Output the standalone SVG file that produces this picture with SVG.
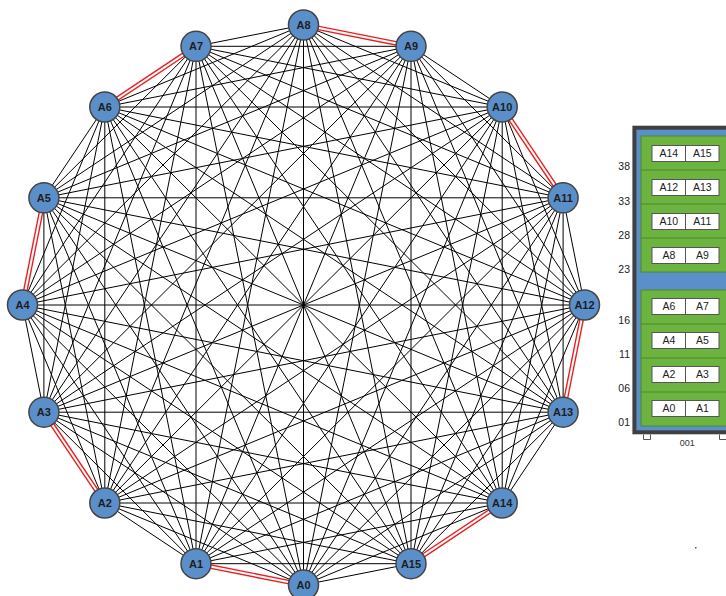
<svg xmlns="http://www.w3.org/2000/svg" width="726" height="596" viewBox="0 0 726 596">
<style>
.e{stroke:#000;stroke-width:1}
.r{stroke:#e8201f;stroke-width:4.8}
.rw{stroke:#fff;stroke-width:2}
.n circle{fill:#5b8fc9;stroke:#444;stroke-width:1.5}
.n text{font-family:"Liberation Sans",Arial,sans-serif;font-weight:bold;font-size:11px;fill:#1e1e1e;text-anchor:middle}
.lbl{font-family:"Liberation Sans",Arial,sans-serif;font-size:10.5px;fill:#222;text-anchor:end}
.cell rect{fill:#fff;stroke:#555;stroke-width:1}
.cell text{font-family:"Liberation Sans",Arial,sans-serif;font-size:10.5px;fill:#222;text-anchor:middle}
.grn{fill:#6cb33f;stroke:#4d8a2a;stroke-width:1}
.div{stroke:#4d8a2a;stroke-width:1}
</style>
<rect width="726" height="596" fill="#fff"/>
<g id="connectors">
<g id="black-edges">
<line class="e" x1="303.5" y1="585" x2="104.8" y2="503"/><line class="e" x1="303.5" y1="585" x2="43.9" y2="412.2"/><line class="e" x1="303.5" y1="585" x2="22.5" y2="305"/><line class="e" x1="303.5" y1="585" x2="43.9" y2="197.8"/><line class="e" x1="303.5" y1="585" x2="104.8" y2="107"/><line class="e" x1="303.5" y1="585" x2="196" y2="46.3"/><line class="e" x1="303.5" y1="585" x2="303.5" y2="25"/><line class="e" x1="303.5" y1="585" x2="411" y2="46.3"/><line class="e" x1="303.5" y1="585" x2="502.2" y2="107"/><line class="e" x1="303.5" y1="585" x2="563.1" y2="197.8"/><line class="e" x1="303.5" y1="585" x2="584.5" y2="305"/><line class="e" x1="303.5" y1="585" x2="563.1" y2="412.2"/><line class="e" x1="303.5" y1="585" x2="502.2" y2="503"/><line class="e" x1="303.5" y1="585" x2="411" y2="563.7"/>
<line class="e" x1="196" y1="563.7" x2="104.8" y2="503"/><line class="e" x1="196" y1="563.7" x2="43.9" y2="412.2"/><line class="e" x1="196" y1="563.7" x2="22.5" y2="305"/><line class="e" x1="196" y1="563.7" x2="43.9" y2="197.8"/><line class="e" x1="196" y1="563.7" x2="104.8" y2="107"/><line class="e" x1="196" y1="563.7" x2="196" y2="46.3"/><line class="e" x1="196" y1="563.7" x2="303.5" y2="25"/><line class="e" x1="196" y1="563.7" x2="411" y2="46.3"/><line class="e" x1="196" y1="563.7" x2="502.2" y2="107"/><line class="e" x1="196" y1="563.7" x2="563.1" y2="197.8"/><line class="e" x1="196" y1="563.7" x2="584.5" y2="305"/><line class="e" x1="196" y1="563.7" x2="563.1" y2="412.2"/><line class="e" x1="196" y1="563.7" x2="502.2" y2="503"/><line class="e" x1="196" y1="563.7" x2="411" y2="563.7"/>
<line class="e" x1="104.8" y1="503" x2="22.5" y2="305"/><line class="e" x1="104.8" y1="503" x2="43.9" y2="197.8"/><line class="e" x1="104.8" y1="503" x2="104.8" y2="107"/><line class="e" x1="104.8" y1="503" x2="196" y2="46.3"/><line class="e" x1="104.8" y1="503" x2="303.5" y2="25"/><line class="e" x1="104.8" y1="503" x2="411" y2="46.3"/><line class="e" x1="104.8" y1="503" x2="502.2" y2="107"/><line class="e" x1="104.8" y1="503" x2="563.1" y2="197.8"/><line class="e" x1="104.8" y1="503" x2="584.5" y2="305"/><line class="e" x1="104.8" y1="503" x2="563.1" y2="412.2"/><line class="e" x1="104.8" y1="503" x2="502.2" y2="503"/><line class="e" x1="104.8" y1="503" x2="411" y2="563.7"/>
<line class="e" x1="43.9" y1="412.2" x2="22.5" y2="305"/><line class="e" x1="43.9" y1="412.2" x2="43.9" y2="197.8"/><line class="e" x1="43.9" y1="412.2" x2="104.8" y2="107"/><line class="e" x1="43.9" y1="412.2" x2="196" y2="46.3"/><line class="e" x1="43.9" y1="412.2" x2="303.5" y2="25"/><line class="e" x1="43.9" y1="412.2" x2="411" y2="46.3"/><line class="e" x1="43.9" y1="412.2" x2="502.2" y2="107"/><line class="e" x1="43.9" y1="412.2" x2="563.1" y2="197.8"/><line class="e" x1="43.9" y1="412.2" x2="584.5" y2="305"/><line class="e" x1="43.9" y1="412.2" x2="563.1" y2="412.2"/><line class="e" x1="43.9" y1="412.2" x2="502.2" y2="503"/><line class="e" x1="43.9" y1="412.2" x2="411" y2="563.7"/>
<line class="e" x1="22.5" y1="305" x2="104.8" y2="107"/><line class="e" x1="22.5" y1="305" x2="196" y2="46.3"/><line class="e" x1="22.5" y1="305" x2="303.5" y2="25"/><line class="e" x1="22.5" y1="305" x2="411" y2="46.3"/><line class="e" x1="22.5" y1="305" x2="502.2" y2="107"/><line class="e" x1="22.5" y1="305" x2="563.1" y2="197.8"/><line class="e" x1="22.5" y1="305" x2="584.5" y2="305"/><line class="e" x1="22.5" y1="305" x2="563.1" y2="412.2"/><line class="e" x1="22.5" y1="305" x2="502.2" y2="503"/><line class="e" x1="22.5" y1="305" x2="411" y2="563.7"/>
<line class="e" x1="43.9" y1="197.8" x2="104.8" y2="107"/><line class="e" x1="43.9" y1="197.8" x2="196" y2="46.3"/><line class="e" x1="43.9" y1="197.8" x2="303.5" y2="25"/><line class="e" x1="43.9" y1="197.8" x2="411" y2="46.3"/><line class="e" x1="43.9" y1="197.8" x2="502.2" y2="107"/><line class="e" x1="43.9" y1="197.8" x2="563.1" y2="197.8"/><line class="e" x1="43.9" y1="197.8" x2="584.5" y2="305"/><line class="e" x1="43.9" y1="197.8" x2="563.1" y2="412.2"/><line class="e" x1="43.9" y1="197.8" x2="502.2" y2="503"/><line class="e" x1="43.9" y1="197.8" x2="411" y2="563.7"/>
<line class="e" x1="104.8" y1="107" x2="303.5" y2="25"/><line class="e" x1="104.8" y1="107" x2="411" y2="46.3"/><line class="e" x1="104.8" y1="107" x2="502.2" y2="107"/><line class="e" x1="104.8" y1="107" x2="563.1" y2="197.8"/><line class="e" x1="104.8" y1="107" x2="584.5" y2="305"/><line class="e" x1="104.8" y1="107" x2="563.1" y2="412.2"/><line class="e" x1="104.8" y1="107" x2="502.2" y2="503"/><line class="e" x1="104.8" y1="107" x2="411" y2="563.7"/>
<line class="e" x1="196" y1="46.3" x2="303.5" y2="25"/><line class="e" x1="196" y1="46.3" x2="411" y2="46.3"/><line class="e" x1="196" y1="46.3" x2="502.2" y2="107"/><line class="e" x1="196" y1="46.3" x2="563.1" y2="197.8"/><line class="e" x1="196" y1="46.3" x2="584.5" y2="305"/><line class="e" x1="196" y1="46.3" x2="563.1" y2="412.2"/><line class="e" x1="196" y1="46.3" x2="502.2" y2="503"/><line class="e" x1="196" y1="46.3" x2="411" y2="563.7"/>
<line class="e" x1="303.5" y1="25" x2="502.2" y2="107"/><line class="e" x1="303.5" y1="25" x2="563.1" y2="197.8"/><line class="e" x1="303.5" y1="25" x2="584.5" y2="305"/><line class="e" x1="303.5" y1="25" x2="563.1" y2="412.2"/><line class="e" x1="303.5" y1="25" x2="502.2" y2="503"/><line class="e" x1="303.5" y1="25" x2="411" y2="563.7"/>
<line class="e" x1="411" y1="46.3" x2="502.2" y2="107"/><line class="e" x1="411" y1="46.3" x2="563.1" y2="197.8"/><line class="e" x1="411" y1="46.3" x2="584.5" y2="305"/><line class="e" x1="411" y1="46.3" x2="563.1" y2="412.2"/><line class="e" x1="411" y1="46.3" x2="502.2" y2="503"/><line class="e" x1="411" y1="46.3" x2="411" y2="563.7"/>
<line class="e" x1="502.2" y1="107" x2="584.5" y2="305"/><line class="e" x1="502.2" y1="107" x2="563.1" y2="412.2"/><line class="e" x1="502.2" y1="107" x2="502.2" y2="503"/><line class="e" x1="502.2" y1="107" x2="411" y2="563.7"/>
<line class="e" x1="563.1" y1="197.8" x2="584.5" y2="305"/><line class="e" x1="563.1" y1="197.8" x2="563.1" y2="412.2"/><line class="e" x1="563.1" y1="197.8" x2="502.2" y2="503"/><line class="e" x1="563.1" y1="197.8" x2="411" y2="563.7"/>
<line class="e" x1="584.5" y1="305" x2="502.2" y2="503"/><line class="e" x1="584.5" y1="305" x2="411" y2="563.7"/>
<line class="e" x1="563.1" y1="412.2" x2="502.2" y2="503"/><line class="e" x1="563.1" y1="412.2" x2="411" y2="563.7"/>
</g>
<g id="red-edges">
<line class="r" x1="303.5" y1="585" x2="196" y2="563.7"/><line class="rw" x1="303.5" y1="585" x2="196" y2="563.7"/>
<line class="r" x1="104.8" y1="503" x2="43.9" y2="412.2"/><line class="rw" x1="104.8" y1="503" x2="43.9" y2="412.2"/>
<line class="r" x1="22.5" y1="305" x2="43.9" y2="197.8"/><line class="rw" x1="22.5" y1="305" x2="43.9" y2="197.8"/>
<line class="r" x1="104.8" y1="107" x2="196" y2="46.3"/><line class="rw" x1="104.8" y1="107" x2="196" y2="46.3"/>
<line class="r" x1="303.5" y1="25" x2="411" y2="46.3"/><line class="rw" x1="303.5" y1="25" x2="411" y2="46.3"/>
<line class="r" x1="502.2" y1="107" x2="563.1" y2="197.8"/><line class="rw" x1="502.2" y1="107" x2="563.1" y2="197.8"/>
<line class="r" x1="584.5" y1="305" x2="563.1" y2="412.2"/><line class="rw" x1="584.5" y1="305" x2="563.1" y2="412.2"/>
<line class="r" x1="502.2" y1="503" x2="411" y2="563.7"/><line class="rw" x1="502.2" y1="503" x2="411" y2="563.7"/>
</g>
</g>
<g id="A0" class="n"><circle cx="303.5" cy="585" r="15"/><text x="303.5" y="589">A0</text></g>
<g id="A1" class="n"><circle cx="196" cy="563.7" r="15"/><text x="196" y="567.7">A1</text></g>
<g id="A2" class="n"><circle cx="104.8" cy="503" r="15"/><text x="104.8" y="507">A2</text></g>
<g id="A3" class="n"><circle cx="43.9" cy="412.2" r="15"/><text x="43.9" y="416.2">A3</text></g>
<g id="A4" class="n"><circle cx="22.5" cy="305" r="15"/><text x="22.5" y="309">A4</text></g>
<g id="A5" class="n"><circle cx="43.9" cy="197.8" r="15"/><text x="43.9" y="201.8">A5</text></g>
<g id="A6" class="n"><circle cx="104.8" cy="107" r="15"/><text x="104.8" y="111">A6</text></g>
<g id="A7" class="n"><circle cx="196" cy="46.3" r="15"/><text x="196" y="50.3">A7</text></g>
<g id="A8" class="n"><circle cx="303.5" cy="25" r="15"/><text x="303.5" y="29">A8</text></g>
<g id="A9" class="n"><circle cx="411" cy="46.3" r="15"/><text x="411" y="50.3">A9</text></g>
<g id="A10" class="n"><circle cx="502.2" cy="107" r="15"/><text x="502.2" y="111">A10</text></g>
<g id="A11" class="n"><circle cx="563.1" cy="197.8" r="15"/><text x="563.1" y="201.8">A11</text></g>
<g id="A12" class="n"><circle cx="584.5" cy="305" r="15"/><text x="584.5" y="309">A12</text></g>
<g id="A13" class="n"><circle cx="563.1" cy="412.2" r="15"/><text x="563.1" y="416.2">A13</text></g>
<g id="A14" class="n"><circle cx="502.2" cy="503" r="15"/><text x="502.2" y="507">A14</text></g>
<g id="A15" class="n"><circle cx="411" cy="563.7" r="15"/><text x="411" y="567.7">A15</text></g>
<g id="rack">
<rect x="634.4" y="127.7" width="200" height="304.6" fill="#5b8fc9" stroke="#404040" stroke-width="4"/>
<rect class="grn" x="641" y="136" width="100" height="136"/>
<line class="div" x1="641" y1="170" x2="726" y2="170"/><line class="div" x1="641" y1="204" x2="726" y2="204"/><line class="div" x1="641" y1="238" x2="726" y2="238"/>
<rect class="grn" x="641" y="290" width="100" height="136"/>
<line class="div" x1="641" y1="324" x2="726" y2="324"/><line class="div" x1="641" y1="358" x2="726" y2="358"/><line class="div" x1="641" y1="392" x2="726" y2="392"/>
<g class="cell"><rect x="652" y="145.5" width="33.5" height="16"/><rect x="685.5" y="145.5" width="33.5" height="16"/><text x="668.8" y="157.3">A14</text><text x="702.3" y="157.3">A15</text></g>
<g class="cell"><rect x="652" y="179.5" width="33.5" height="16"/><rect x="685.5" y="179.5" width="33.5" height="16"/><text x="668.8" y="191.3">A12</text><text x="702.3" y="191.3">A13</text></g>
<g class="cell"><rect x="652" y="213.5" width="33.5" height="16"/><rect x="685.5" y="213.5" width="33.5" height="16"/><text x="668.8" y="225.3">A10</text><text x="702.3" y="225.3">A11</text></g>
<g class="cell"><rect x="652" y="247.5" width="33.5" height="16"/><rect x="685.5" y="247.5" width="33.5" height="16"/><text x="668.8" y="259.3">A8</text><text x="702.3" y="259.3">A9</text></g>
<g class="cell"><rect x="652" y="298.5" width="33.5" height="16"/><rect x="685.5" y="298.5" width="33.5" height="16"/><text x="668.8" y="310.3">A6</text><text x="702.3" y="310.3">A7</text></g>
<g class="cell"><rect x="652" y="332.5" width="33.5" height="16"/><rect x="685.5" y="332.5" width="33.5" height="16"/><text x="668.8" y="344.3">A4</text><text x="702.3" y="344.3">A5</text></g>
<g class="cell"><rect x="652" y="366.5" width="33.5" height="16"/><rect x="685.5" y="366.5" width="33.5" height="16"/><text x="668.8" y="378.3">A2</text><text x="702.3" y="378.3">A3</text></g>
<g class="cell"><rect x="652" y="400.5" width="33.5" height="16"/><rect x="685.5" y="400.5" width="33.5" height="16"/><text x="668.8" y="412.3">A0</text><text x="702.3" y="412.3">A1</text></g>
<text class="lbl" x="630" y="170">38</text>
<text class="lbl" x="630" y="205">33</text>
<text class="lbl" x="630" y="239">28</text>
<text class="lbl" x="630" y="273">23</text>
<text class="lbl" x="630" y="324">16</text>
<text class="lbl" x="630" y="358">11</text>
<text class="lbl" x="630" y="392">06</text>
<text class="lbl" x="630" y="426">01</text>
<polyline points="643.5,434.5 643.5,439.5 650.5,439.5 650.5,434.5" fill="none" stroke="#555" stroke-width="1"/>
<polyline points="719.5,434.5 719.5,439.5 728,439.5" fill="none" stroke="#555" stroke-width="1"/>
<text x="687.3" y="445.5" font-family="Liberation Sans, Arial, sans-serif" font-size="9px" fill="#333" text-anchor="middle">001</text>
</g>
<rect x="695" y="547" width="1.5" height="1.5" fill="#555"/>
</svg>
